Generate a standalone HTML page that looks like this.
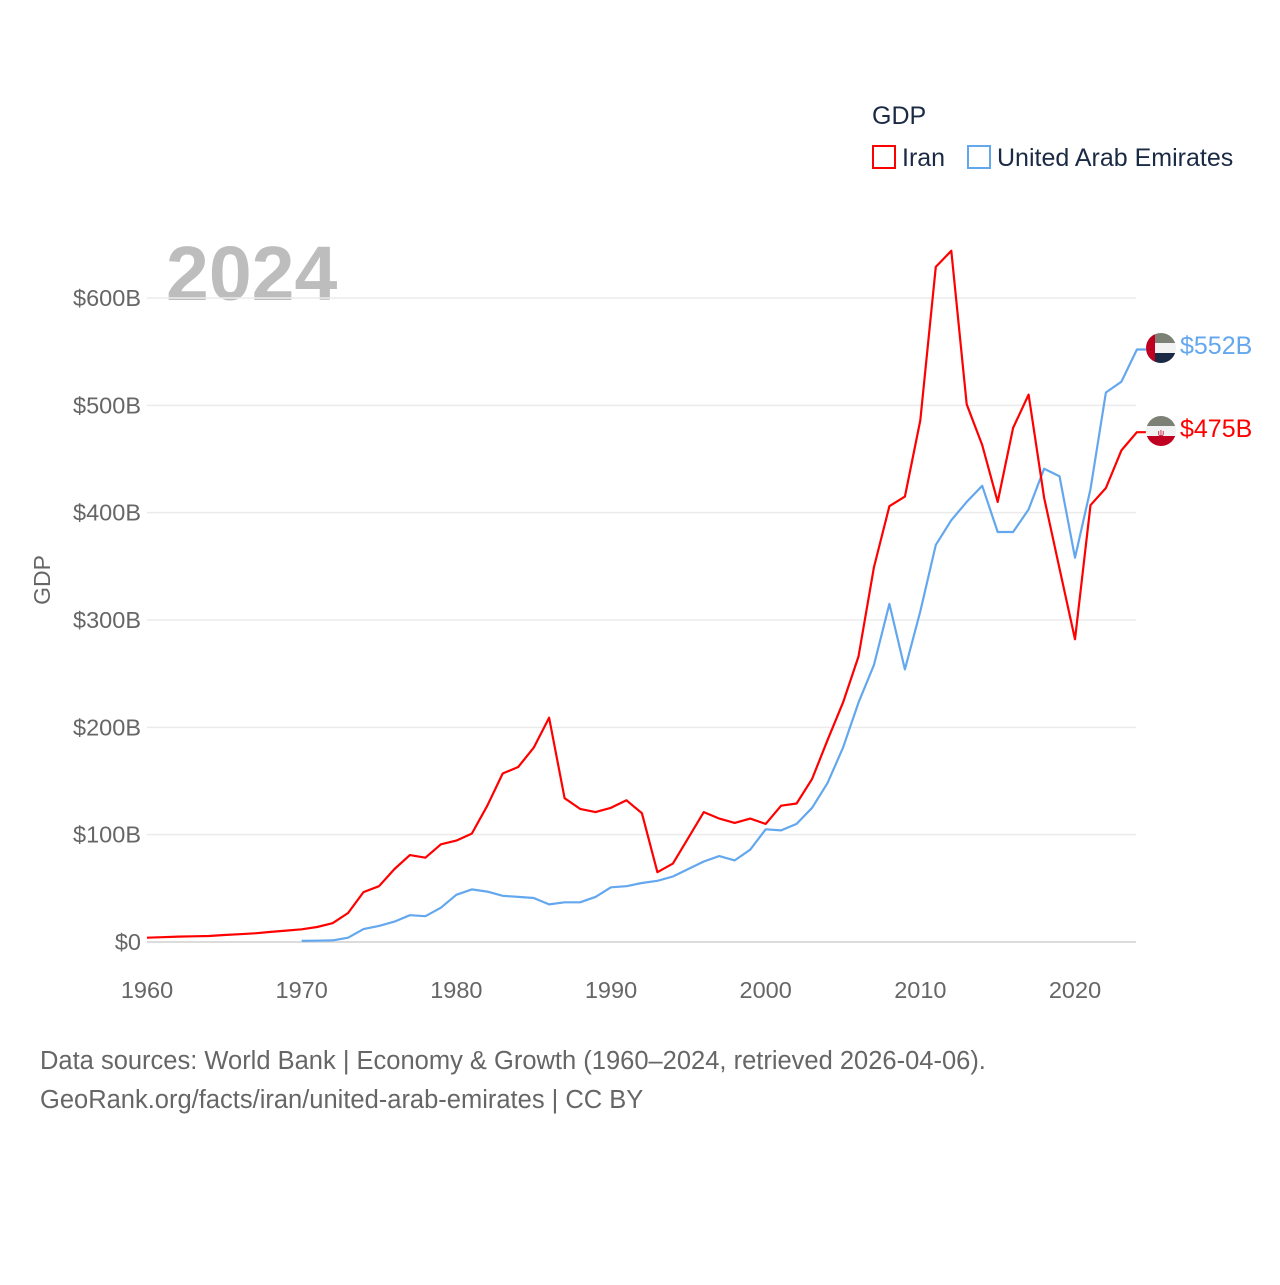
<!DOCTYPE html>
<html><head><meta charset="utf-8"><style>
body{margin:0;background:#fff;font-family:"Liberation Sans",sans-serif}
svg text{font-family:"Liberation Sans",sans-serif}
</style></head><body>
<svg id="chart" width="1280" height="1280">
<g>
<text x="872" y="124" font-size="25" fill="#1b2a44">GDP</text>
<rect x="873" y="146" width="22" height="22" fill="none" stroke="#ff0000" stroke-width="2"/>
<text x="902" y="166" font-size="25" fill="#1b2a44">Iran</text>
<rect x="968" y="146" width="22" height="22" fill="none" stroke="#63a7ee" stroke-width="2"/>
<text x="997" y="166" font-size="25" fill="#1b2a44">United Arab Emirates</text>
</g>
<text x="166" y="300" font-size="77" font-weight="bold" fill="#bdbdbd">2024</text>
<text transform="translate(50,580) rotate(-90)" text-anchor="middle" font-size="23" fill="#666">GDP</text>
<g id="grid"></g><g id="lines"></g>
<g>
<clipPath id="c1"><circle cx="1161" cy="348" r="15"/></clipPath>
<g clip-path="url(#c1)">
<rect x="1146" y="333" width="30" height="10" fill="#7b8275"/><rect x="1146" y="343" width="30" height="10" fill="#f2f2f2"/><rect x="1146" y="353" width="30" height="10" fill="#1b2a44"/><rect x="1146" y="333" width="9" height="30" fill="#c00020"/></g>
<clipPath id="c2"><circle cx="1161" cy="431" r="15"/></clipPath>
<g clip-path="url(#c2)">
<rect x="1146" y="416" width="30" height="10" fill="#7b8275"/><rect x="1146" y="426" width="30" height="10" fill="#f2f2f2"/><rect x="1146" y="436" width="30" height="10" fill="#c00020"/><text x="1161" y="436" font-size="9" fill="#c00020" text-anchor="middle">ψ</text></g>
<text x="1180" y="354" font-size="25" fill="#63a7ee">$552B</text>
<text x="1180" y="437" font-size="25" fill="#ff0000">$475B</text>
</g>
<text x="40" y="1069" font-size="25.5" fill="#666">Data sources: World Bank | Economy &amp; Growth (1960–2024, retrieved 2026-04-06).</text>
<text x="40" y="1108" font-size="25.5" fill="#666">GeoRank.org/facts/iran/united-arab-emirates | CC BY</text>
</svg>
<script>
const iranStartYear = 1960;
const iranValues = [4,4.5,5,5.3,5.6,6.5,7.3,8.1,9.4,10.6,11.8,14,17.5,27,46.5,52,68,81,78.5,91,94.5,101,127,157,163,181,209,134,124,121,125,132,120,65,73,97,121,115,111,115,110,127,129,152,188,223,266,349,406,415,486,629,644,501,463,410,479,510,414,348,282,407,423,458,475];
const uaeStartYear = 1970;
const uaeValues = [1,1.2,1.5,4,12,15,19,25,24,32,44,49,47,43,42,41,35,37,37,42,51,52,55,57,61,68,75,80,76,86,105,104,110,125,148,181,223,258,315,254,308,370,393,410,425,382,382,403,441,434,358,422,512,522,552];
const yTicks = [0,100,200,300,400,500,600];
const yTickLabels = ["$0","$100B","$200B","$300B","$400B","$500B","$600B"];
const xTicks = [1960,1970,1980,1990,2000,2010,2020];
const NS = "http://www.w3.org/2000/svg";
const xs = y => 147 + (y - 1960) * (928 / 60);
const ys = v => 942 - v * (644 / 600);
const grid = document.getElementById('grid');
yTicks.forEach((t, i) => {
  const l = document.createElementNS(NS, 'line');
  l.setAttribute('x1', 147); l.setAttribute('x2', 1136);
  l.setAttribute('y1', ys(t)); l.setAttribute('y2', ys(t));
  l.setAttribute('stroke', i === 0 ? '#dcdcdc' : '#ebebeb'); l.setAttribute('stroke-width', i === 0 ? 2 : 1.5);
  
  
  grid.appendChild(l);
  const tx = document.createElementNS(NS, 'text');
  tx.setAttribute('x', 141); tx.setAttribute('y', ys(t) + 8);
  tx.setAttribute('text-anchor', 'end'); tx.setAttribute('font-size', '23.5'); tx.setAttribute('fill', '#666');
  tx.textContent = yTickLabels[i];
  
  
  grid.appendChild(tx);
});
xTicks.forEach(t => {
  const tx = document.createElementNS(NS, 'text');
  tx.setAttribute('x', xs(t)); tx.setAttribute('y', 998);
  tx.setAttribute('text-anchor', 'middle'); tx.setAttribute('font-size', '23.5'); tx.setAttribute('fill', '#666');
  tx.textContent = t;
  
  
  grid.appendChild(tx);
});
const lines = document.getElementById('lines');
function drawLine(start, vals, color, name) {
  const pts = vals.map((v, i) => xs(start + i).toFixed(1) + ',' + ys(v).toFixed(1));
  const last = vals.length - 1;
  pts.push((xs(start + last) + 9).toFixed(1) + ',' + ys(vals[last]).toFixed(1));
  const p = document.createElementNS(NS, 'polyline');
  p.setAttribute('points', pts.join(' '));
  p.setAttribute('fill', 'none'); p.setAttribute('stroke', color); p.setAttribute('stroke-width', '2.2');
  p.setAttribute('stroke-linejoin', 'round');
  
  
  lines.appendChild(p);
}
drawLine(uaeStartYear, uaeValues, '#63a7ee', 'uae-line');
drawLine(iranStartYear, iranValues, '#ff0000', 'iran-line');
</script>
</body></html>
